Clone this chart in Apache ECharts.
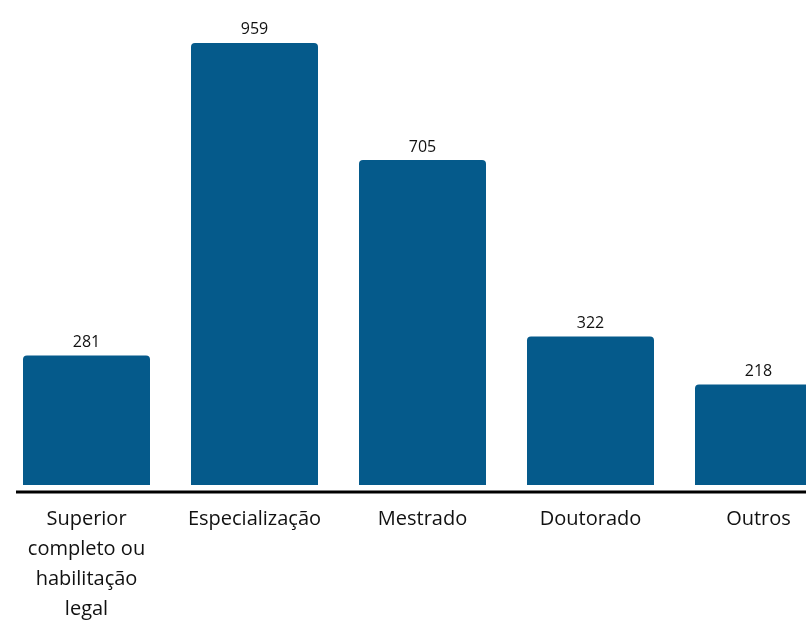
<!DOCTYPE html>
<html>
<head>
<meta charset="utf-8">
<script src="https://cdn.jsdelivr.net/npm/echarts@6/dist/echarts.min.js"></script>
<style>
  html, body { margin: 0; padding: 0; background: #fff; }
  #chart { width: 806px; height: 624px; }
</style>
</head>
<body>
<div id="chart"></div>
<script>
const categories = [
  'Superior\ncompleto ou\nhabilitação\nlegal',
  'Especialização',
  'Mestrado',
  'Doutorado',
  'Outros'
];
const values = [281, 959, 705, 322, 218];

const chart = echarts.init(document.getElementById('chart'));

chart.setOption({
  animation: false,
  grid: { left: 2.5, width: 840, top: 24, bottom: 139, outerBoundsMode: 'none', containLabel: false },
  xAxis: {
    type: 'category',
    data: categories,
    axisLine: { show: false },
    axisTick: { show: false },
    axisLabel: {
      interval: 0,
      margin: 19,
      fontSize: 20,
      lineHeight: 30,
      color: '#111',
      fontFamily: 'Open Sans'
    }
  },
  yAxis: {
    type: 'value',
    min: 0,
    max: 1000,
    show: false,
    splitLine: { show: false }
  },
  series: [{
    type: 'bar',
    data: values,
    barWidth: 127,
    itemStyle: { color: '#055a8b', borderRadius: [4, 4, 0, 0] },
    label: {
      show: true,
      position: 'top',
      distance: 5,
      fontSize: 16,
      color: '#111',
      fontFamily: 'Open Sans'
    }
  }],
  graphic: [{
    type: 'line',
    shape: { x1: 16, y1: 492, x2: 806, y2: 492 },
    style: { stroke: '#000', lineWidth: 3 }
  }]
});
</script>
</body>
</html>
